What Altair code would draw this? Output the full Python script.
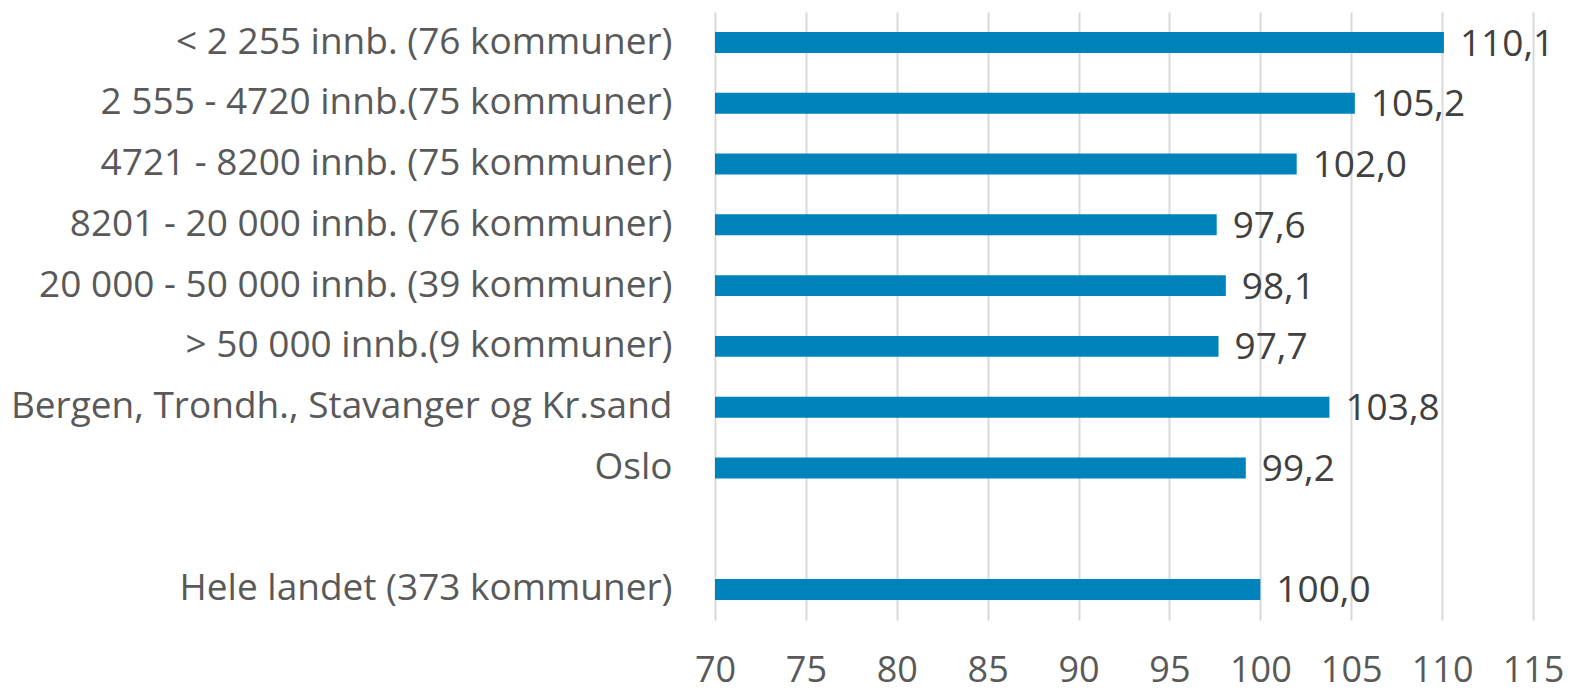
import altair as alt
import pandas as pd

categories = [
    "< 2 255 innb. (76 kommuner)",
    "2 555 - 4720 innb.(75 kommuner)",
    "4721 - 8200 innb. (75 kommuner)",
    "8201 - 20 000 innb. (76 kommuner)",
    "20 000 - 50 000 innb. (39 kommuner)",
    "> 50 000 innb.(9 kommuner)",
    "Bergen, Trondh., Stavanger og Kr.sand",
    "Oslo",
    "Hele landet (373 kommuner)",
]
values = [110.1, 105.2, 102.0, 97.6, 98.1, 97.7, 103.8, 99.2, 100.0]
domain_order = categories[:8] + [" "] + categories[8:]
x_ticks = [70, 75, 80, 85, 90, 95, 100, 105, 110, 115]

df = pd.DataFrame({
    "kategori": categories,
    "verdi": values,
    "etikett": [f"{v:.1f}".replace(".", ",") for v in values],
})

FONT = "Open Sans"
y_enc = alt.Y("kategori:N", sort=domain_order,
              scale=alt.Scale(domain=domain_order, paddingInner=0.655, paddingOuter=0.33),
              axis=alt.Axis(title=None, ticks=False, domain=False, labelPadding=43,
                            labelFont=FONT, labelFontSize=37, labelColor="#595959",
                            labelLimit=800))
x_enc = alt.X("verdi:Q", scale=alt.Scale(domain=[70, 115], nice=False, zero=False),
              axis=alt.Axis(title=None, values=x_ticks, ticks=False, domain=False,
                            grid=True, gridColor="#D9D9D9", gridWidth=2,
                            labelFont=FONT, labelFontSize=36, labelColor="#595959",
                            labelPadding=33, labelFlush=False))

bars = alt.Chart(df).mark_bar(color="#0083BA").encode(y=y_enc, x=x_enc, x2=alt.datum(70))
text = alt.Chart(df).mark_text(align="left", baseline="middle", dx=16, dy=2,
                               font=FONT, fontSize=37, color="#404040").encode(
    y=alt.Y("kategori:N", sort=domain_order), x="verdi:Q", text="etikett:N")

chart = (bars + text).properties(
    width=818, height=608,
    autosize=alt.AutoSizeParams(type="none"),
    padding={"left": 707, "top": 4, "right": 32, "bottom": 72},
).configure_view(stroke=None)

chart.save("out.html", embed_options={"renderer": "svg", "actions": False})
